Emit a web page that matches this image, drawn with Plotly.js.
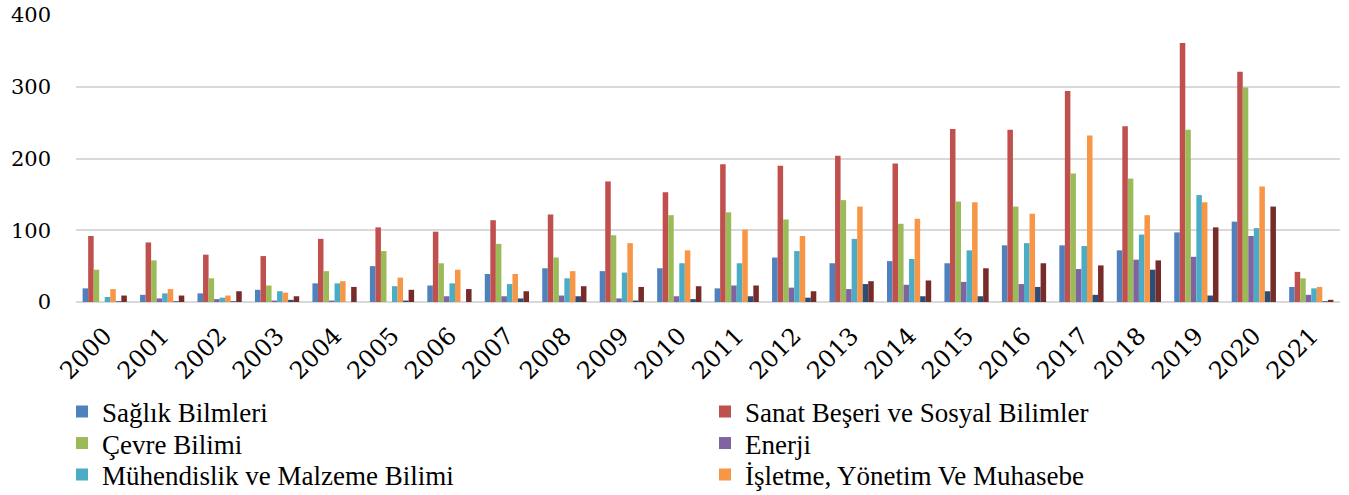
<!DOCTYPE html>
<html>
<head>
<meta charset="utf-8">
<script src="https://cdn.plot.ly/plotly-3.0.1.min.js"></script>
<style>html,body{margin:0;padding:0;background:#fff;}#chart{width:1349px;height:495px;}</style>
</head>
<body>
<div id="chart"></div>
<script>
const years = ["2000","2001","2002","2003","2004","2005","2006","2007","2008","2009","2010","2011","2012","2013","2014","2015","2016","2017","2018","2019","2020","2021"];

const saglik      = [19,10,12,17,26,50,23,39,47,43,47,19,62,54,57,54,79,79,72,97,112,21];
const sanat       = [92,83,66,64,88,104,98,114,122,168,153,192,190,204,193,241,240,294,245,361,321,42];
const cevre       = [45,58,33,23,43,71,54,81,62,93,121,125,115,142,109,140,133,179,172,240,299,33];
const enerji      = [0,5,4,2,2,0,8,8,9,5,8,23,20,18,24,28,25,46,59,63,92,10];
const muhendislik = [7,12,6,15,26,22,26,25,33,41,54,54,71,88,60,72,82,78,94,149,103,19];
const isletme     = [18,18,9,13,29,34,45,39,43,82,72,101,92,133,116,139,123,232,121,139,161,21];
const seri7       = [1,1,1,3,0,2,0,5,8,2,4,8,6,25,8,8,21,10,45,9,15,1];
const seri8       = [9,9,15,8,21,17,18,15,22,21,22,23,15,29,30,47,54,51,58,104,133,3];

const names = ["Sağlık Bilmleri","Sanat Beşeri ve Sosyal Bilimler","Çevre Bilimi","Enerji","Mühendislik ve Malzeme Bilimi","İşletme, Yönetim Ve Muhasebe","Bilgisayar Bilimi","Diğer"];
const series = [saglik, sanat, cevre, enerji, muhendislik, isletme, seri7, seri8];
const colors = ["#4F81BD","#C0504D","#9BBB59","#8064A2","#4BACC6","#F79646","#2C4D75","#772C2A"];
const legendIds = ["legend","legend2","legend3","legend4","legend5","legend6","legend","legend"];

const traces = series.map((vals, i) => ({
  type: "bar",
  name: names[i],
  x: years,
  y: vals,
  marker: {color: colors[i], line: {width: 0}},
  legend: legendIds[i],
  showlegend: i < 6
}));

const legendFont = {family: "Liberation Serif", size: 27, color: "#000"};
// legend entry placement (two columns, three rows)
const colLeft = [62, 705];
const rowMid = [412, 443.5, 475];

const layout = {
  width: 1349, height: 495,
  margin: {l: 76, r: 9, t: 15, b: 193, pad: 0},
  paper_bgcolor: "#fff", plot_bgcolor: "#fff",
  barmode: "group", bargap: 0.23, bargroupgap: 0,
  font: {family: "DejaVu Serif", color: "#000", size: 21},
  xaxis: {
    type: "category", tickangle: -45, automargin: false,
    tickfont: {family: "DejaVu Serif", size: 24, color: "#000"},
    showgrid: false, showline: false, ticks: "", ticklabelstandoff: 14
  },
  yaxis: {
    range: [0, 400], dtick: 100, automargin: false,
    tickfont: {family: "DejaVu Serif", size: 21, color: "#000"},
    gridcolor: "#d9d9d9", gridwidth: 2,
    zeroline: true, zerolinecolor: "#d9d9d9", zerolinewidth: 2,
    showline: false, ticks: "", ticklabelstandoff: 24
  },
  showlegend: true
};

for (let i = 0; i < 6; i++) {
  const col = i % 2, row = Math.floor(i / 2);
  layout[legendIds[i]] = {
    orientation: "v", xref: "paper", yref: "container",
    x: (colLeft[col] - 76) / 1264, xanchor: "left",
    y: 1 - rowMid[row] / 495, yanchor: "middle",
    font: legendFont, bgcolor: "rgba(0,0,0,0)"
  };
}

Plotly.newPlot("chart", traces, layout, {displayModeBar: false, staticPlot: true});
</script>
</body>
</html>
